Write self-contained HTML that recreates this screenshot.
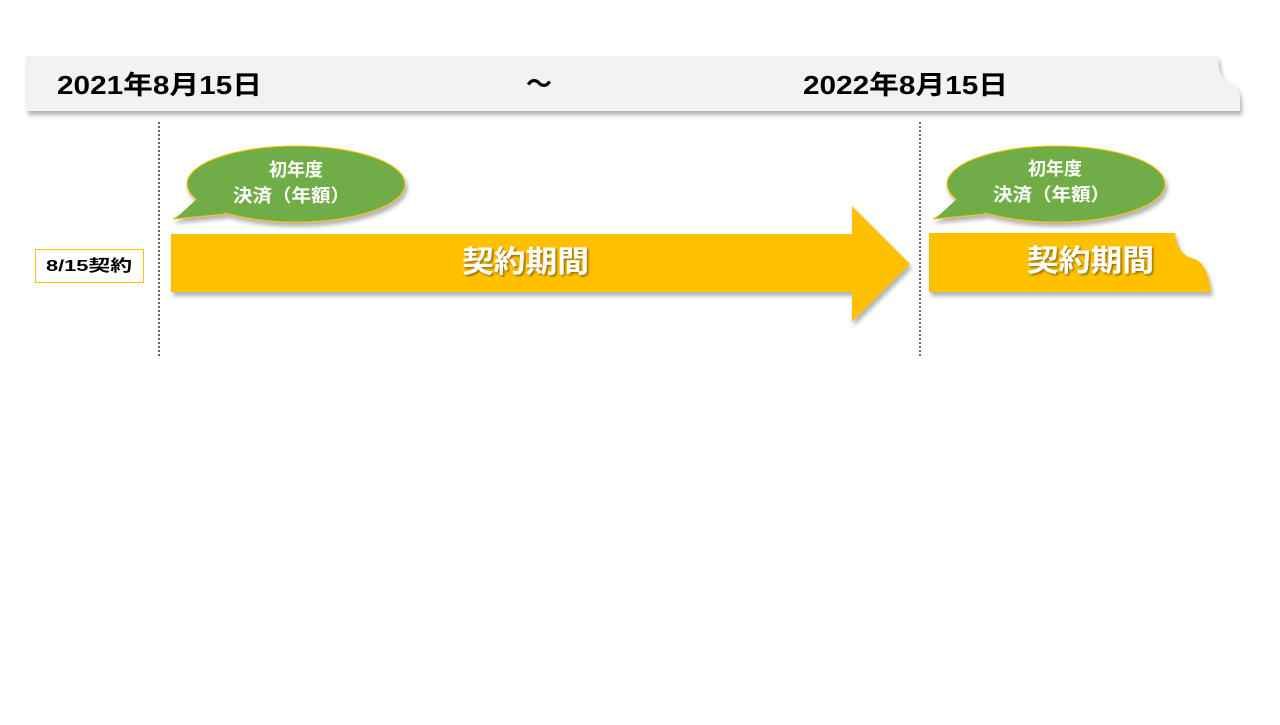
<!DOCTYPE html>
<html><head><meta charset="utf-8"><style>
body{margin:0;background:#fff;width:1280px;height:720px;overflow:hidden}
text{font-family:"Liberation Sans","Noto Sans CJK JP",sans-serif;font-weight:bold}
</style></head><body>
<svg width="1280" height="720" viewBox="0 0 1280 720">
<defs>
<filter id="sh" x="-10%" y="-10%" width="130%" height="140%"><feDropShadow dx="2" dy="4" stdDeviation="2" flood-color="#000" flood-opacity="0.3"/></filter>
<filter id="ts"><feDropShadow dx="1.5" dy="1.5" stdDeviation="1" flood-color="#000" flood-opacity="0.45"/></filter>
</defs>
<path d="M26 56 H1218 Q1218 78 1228 82 Q1240 86 1240 100 V111 H26 Z" fill="#f2f2f2" filter="url(#sh)"/>
<text x="57" y="94" font-size="26" fill="#000" textLength="205" lengthAdjust="spacingAndGlyphs">2021年8月15日</text>
<text x="526" y="93" font-size="26" fill="#000">～</text>
<text x="803" y="94" font-size="26" fill="#000" textLength="205" lengthAdjust="spacingAndGlyphs">2022年8月15日</text>
<line x1="159" y1="122" x2="159" y2="358" stroke="#203864" stroke-width="1.5" stroke-dasharray="2,2"/>
<line x1="920" y1="122" x2="920" y2="358" stroke="#203864" stroke-width="1.5" stroke-dasharray="2,2"/>
<rect x="35.5" y="249.5" width="108" height="33" fill="#fff" stroke="#ffc000"/>
<text x="46" y="271" font-size="16" fill="#000" textLength="86" lengthAdjust="spacingAndGlyphs">8/15契約</text>
<path d="M171 234 H852 V206 L910 264 L852 322 V292 H171 Z" fill="#ffc000" filter="url(#sh)"/>
<path d="M929 233 H1175 Q1178 255 1192 258 Q1208 262 1211 292 H929 Z" fill="#ffc000" filter="url(#sh)"/>
<text x="462" y="272" font-size="30" fill="#fff" textLength="127" lengthAdjust="spacingAndGlyphs" filter="url(#ts)">契約期間</text>
<text x="1027" y="271" font-size="30" fill="#fff" textLength="127" lengthAdjust="spacingAndGlyphs" filter="url(#ts)">契約期間</text>
<g filter="url(#sh)">
<g fill="#70ad47" stroke="#ffc000" stroke-width="1">
<ellipse cx="296" cy="184" rx="109" ry="38"/>
<path d="M203 203 L173 219 L226 214" />
<ellipse cx="1056" cy="184" rx="109" ry="38"/>
<path d="M963 203 L933 219 L986 214"/>
</g>
<path d="M200 196 L176 218 L230 212 Z" fill="#70ad47"/>
<path d="M960 196 L936 218 L990 212 Z" fill="#70ad47"/>
</g>
<text x="296" y="176" font-size="18" fill="#fff" text-anchor="middle">初年度</text>
<text x="233" y="202" font-size="18" fill="#fff" textLength="117" lengthAdjust="spacingAndGlyphs">決済（年額）</text>
<text x="1055" y="175" font-size="18" fill="#fff" text-anchor="middle">初年度</text>
<text x="993" y="201" font-size="18" fill="#fff" textLength="117" lengthAdjust="spacingAndGlyphs">決済（年額）</text>
</svg>
</body></html>
